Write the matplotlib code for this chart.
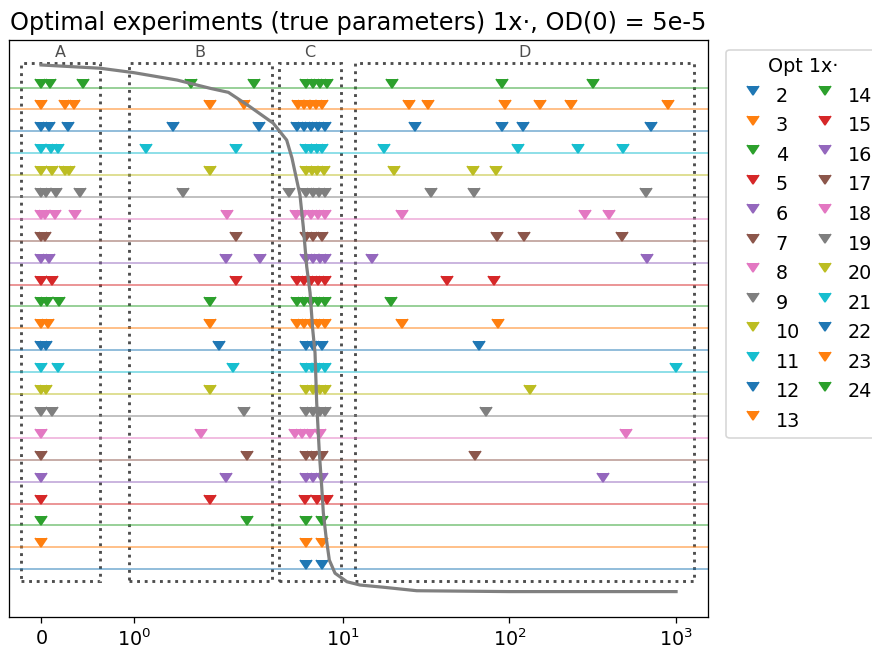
import matplotlib
matplotlib.use('Agg')
from matplotlib import pyplot as plt
from matplotlib.patches import Rectangle

opt_2 = [6.03, 7.49]
opt_3 = [0, 6.03, 7.49]
opt_4 = [0, 2.65, 6.03, 7.49]
opt_5 = [0, 1.82, 5.94, 6.99, 8.1]
opt_6 = [0, 2.0, 6.0, 6.6, 7.5, 363]
opt_7 = [0, 2.65, 6.0, 6.6, 7.5, 62.2]
opt_8 = [0, 1.73, 5.2, 5.7, 6.37, 7.31, 501]
opt_9 = [0, 0.115, 2.57, 6.0, 6.6, 7.3, 7.86, 72.1]
opt_10 = [0, 0.054, 1.82, 6.0, 6.6, 7.3, 7.86, 133]
opt_11 = [0, 0.18, 2.21, 6.0, 6.5, 7.1, 7.83, 1000]
opt_12 = [0, 0.054, 1.92, 6.0, 6.6, 7.5, 66]
opt_13 = [0, 0.072, 1.83, 5.32, 5.86, 6.46, 7.1, 7.86, 22.6, 85.8]
opt_14 = [0, 0.068, 0.198, 1.82, 5.32, 5.86, 6.46, 7.1, 7.86, 19.5]
opt_15 = [0, 0.115, 2.29, 5.32, 5.86, 6.46, 7.1, 7.86, 42.1, 80.9]
opt_16 = [0, 0.09, 2.0, 3.19, 6.0, 6.6, 7.3, 7.86, 14.9, 667]
opt_17 = [0, 0.04, 2.29, 6.0, 6.6, 7.5, 84.7, 123, 476]
opt_18 = [0, 0.043, 0.151, 0.367, 2.01, 5.22, 5.78, 6.42, 7.1, 7.86, 22.8, 284, 396]
opt_19 = [0, 0.054, 0.162, 0.42, 1.53, 4.78, 6.04, 6.6, 7.2, 7.83, 33.7, 61.6, 658]
opt_20 = [0, 0.116, 0.26, 0.306, 1.82, 6.0, 6.5, 7.0, 7.7, 20.4, 60.3, 82.8]
opt_21 = [0, 0.105, 0.187, 1.13, 2.29, 6.0, 6.46, 6.97, 7.51, 17.8, 112, 257, 483]
opt_22 = [0, 0.09, 0.295, 1.42, 3.16, 5.32, 5.86, 6.46, 7.11, 7.83, 27.2, 90, 120, 708]
opt_23 = [0, 0.26, 0.356, 1.82, 2.57, 5.39, 5.86, 6.37, 6.92, 7.51, 25.0, 32.4, 94.2, 153, 234, 891]
opt_24 = [0, 0.097, 0.457, 1.62, 2.92, 6.04, 6.6, 7.3, 8.06, 19.8, 90, 316]

n_points = list(range(2, 25))
designs = [opt_2, opt_3, opt_4, opt_5, opt_6, opt_7, opt_8, opt_9, opt_10, opt_11, opt_12,
           opt_13, opt_14, opt_15, opt_16, opt_17, opt_18, opt_19, opt_20, opt_21, opt_22,
           opt_23, opt_24]

# OD curve (rescaled onto the row axis)
od_t = [0, 0.64, 1.0, 1.47, 1.83, 2.06, 2.78, 3.83, 4.61, 4.96, 5.54, 5.80, 6.08, 6.37, 6.61,
        6.82, 6.98, 7.24, 7.48, 7.65, 7.94, 8.31, 8.99, 10.6, 12.7, 17.5, 27.8, 100, 1000]
od_y = [25.03, 24.88, 24.68, 24.34, 23.96, 23.78, 23.12, 22.37, 21.60, 20.78, 19.09, 17.64,
        15.82, 14.62, 12.93, 11.88, 9.59, 7.31, 5.77, 4.57, 3.49, 2.42, 1.82, 1.43, 1.28, 1.18,
        1.02, 0.98, 0.98]

# regions of the design space
region_names = ['A', 'B', 'C', 'D']
region_lo = [-0.22, 0.95, 4.15, 11.8]
region_hi = [0.64, 3.74, 9.7, 1287]
region_bottom = 1.47
region_top = 25.14

dpi = 115
fig = plt.figure(figsize=(872 / dpi, 651 / dpi), dpi=dpi)
ax = fig.add_axes([9 / 872, 34 / 651, 699.3 / 872, 577 / 651])
ax.set_xscale('symlog', linthresh=2)

for n, xs in zip(n_points, designs):
    c = f'C{(n - 2) % 10}'
    ax.axhline(n, color=c, lw=1, alpha=0.6)
    ax.plot(xs, [n] * len(xs), ls='', marker=7, ms=7.5, color=c, label=str(n))

ax.plot(od_t, od_y, color='gray', lw=2, zorder=5)

tr = ax.xaxis.get_transform()
for name, lo, hi in zip(region_names, region_lo, region_hi):
    ax.add_patch(Rectangle((lo, region_bottom), hi - lo, region_top - region_bottom,
                           fill=False, ls=':', lw=1.8, ec='0.3'))
    a, b = tr.transform([lo, hi])
    mid = tr.inverted().transform([(a + b) / 2])[0]
    ax.text(mid, region_top + 0.45, name, ha='center', va='center', color='0.3', fontsize=10)

ax.set_xlim(-0.346, 1561)
ax.set_ylim(-0.18, 26.17)
ax.set_yticks([])
ax.tick_params(axis='x', labelsize=12, length=4)
ax.set_title('Optimal experiments (true parameters) 1x\u00b7, OD(0) = 5e-5', fontsize=15)
ax.legend(title='Opt 1x\u00b7', loc='upper left', bbox_to_anchor=(1.0116, 1.0), ncol=2,
          fontsize=12, title_fontsize=12, handletextpad=0.2, columnspacing=0.3,
          labelspacing=0.55)

fig.savefig('out.png', dpi=dpi)
